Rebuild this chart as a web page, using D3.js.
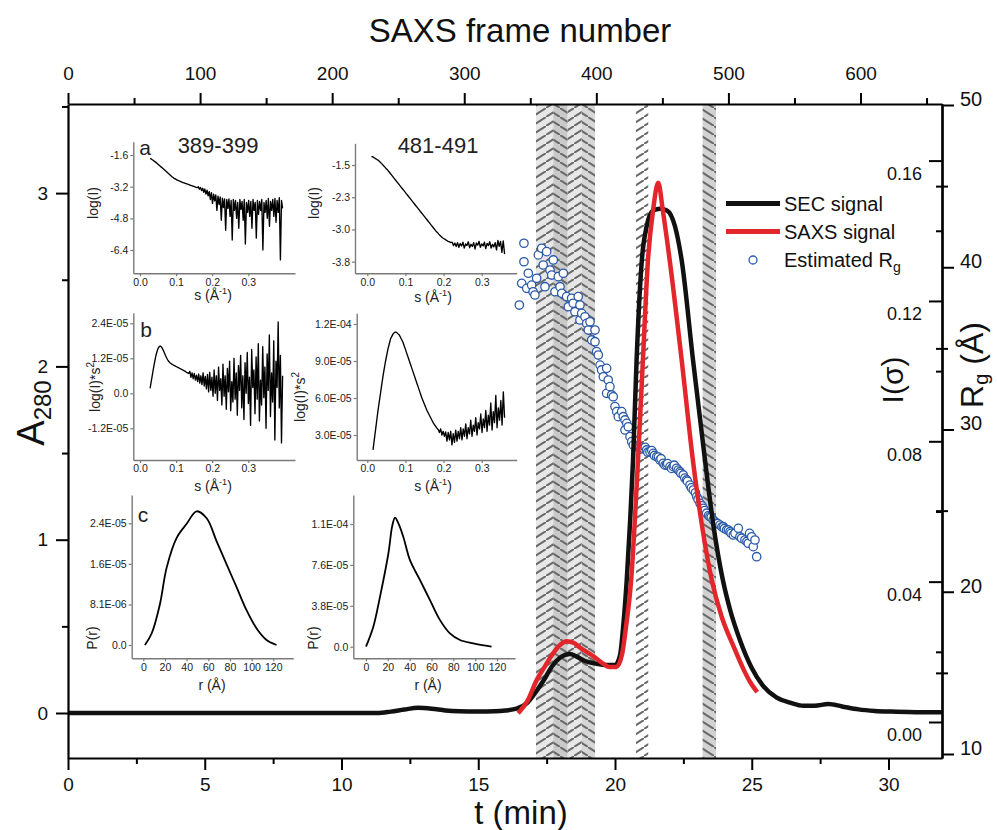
<!DOCTYPE html>
<html><head><meta charset="utf-8">
<script src="https://cdn.jsdelivr.net/npm/d3@7"></script>
<style>
body{margin:0;background:#fff;}
svg text{font-family:"Liberation Sans",Arial,Helvetica,sans-serif;}
</style></head><body>
<svg id="c" width="997" height="830"></svg>
<script>
// ---------------- DATA ----------------
// Main chart: SEC (A280) trace vs time (min)
const secTime = [0, 11.3, 11.8, 12.3, 12.8, 13.3, 13.8, 14.3, 15.0, 15.6, 16.0, 16.4, 16.8, 17.1, 17.4, 17.7, 18.0, 18.35, 18.6, 18.9, 19.3, 19.7, 20.0, 20.18, 20.3, 20.43, 20.55, 20.66, 20.79, 20.98, 21.16, 21.39, 21.65, 21.9, 22.19, 22.44, 22.85, 23.29, 23.6, 23.94, 24.2, 24.57, 25.0, 25.4, 25.9, 26.4, 26.9, 27.3, 27.8, 28.3, 28.9, 29.5, 30.1, 31.0, 31.96];
const secA280 = [0, 0, 0.008, 0.02, 0.03, 0.025, 0.015, 0.01, 0.008, 0.01, 0.015, 0.025, 0.06, 0.12, 0.19, 0.27, 0.32, 0.34, 0.325, 0.30, 0.285, 0.277, 0.277, 0.33, 0.5, 0.77, 1.1, 1.46, 2.04, 2.61, 2.81, 2.90, 2.91, 2.90, 2.81, 2.61, 2.04, 1.46, 1.08, 0.77, 0.6, 0.42, 0.26, 0.16, 0.09, 0.06, 0.042, 0.042, 0.052, 0.038, 0.021, 0.012, 0.008, 0.005, 0.004];
// SAXS integrated intensity I(sigma) vs time (min)
const saxsTime = [16.46, 16.8, 17.14, 17.45, 17.73, 18.0, 18.23, 18.5, 18.72, 19.0, 19.2, 19.5, 19.8, 20.05, 20.25, 20.4, 20.59, 20.84, 21.02, 21.2, 21.39, 21.58, 21.75, 22.01, 22.44, 22.85, 23.2, 23.54, 23.9, 24.31, 24.7, 24.94, 25.2];
const saxsI = [0.0025, 0.006, 0.012, 0.016, 0.0195, 0.022, 0.023, 0.0225, 0.0212, 0.0198, 0.0188, 0.017, 0.0157, 0.0157, 0.019, 0.027, 0.0404, 0.0745, 0.103, 0.131, 0.1457, 0.1537, 0.1457, 0.131, 0.103, 0.0745, 0.055, 0.0404, 0.030, 0.022, 0.015, 0.0114, 0.0085];
// Estimated Rg vs SAXS frame number
const rgFrame = [341.7, 343.5, 345.2, 345.2, 347.3, 348.5, 351.0, 352.1, 353.5, 354.8, 356.1, 358.6, 359.8, 361.1, 362.4, 364.9, 366.2, 367.4, 368.7, 371.2, 372.5, 373.8, 375.0, 377.5, 378.8, 381.3, 382.5, 383.8, 386.3, 387.6, 387.6, 388.9, 391.4, 392.7, 393.9, 395.2, 396.5, 399.0, 399.0, 400.2, 401.5, 402.8, 404.0, 405.3, 407.8, 407.8, 409.0, 410.3, 411.6, 412.8, 414.1, 415.4, 416.6, 419.2, 420.4, 421.7, 421.7, 423.0, 424.2, 425.5, 426.8, 428.0, 430.5, 432.0, 433.0, 434.0, 435.5, 437.0, 438.1, 439.0, 440.6, 442.0, 443.1, 444.0, 445.7, 447.0, 448.2, 449.0, 450.7, 452.0, 453.3, 454.0, 455.8, 457.0, 458.3, 459.0, 460.8, 462.0, 463.3, 464.0, 465.8, 467.0, 468.4, 469.0, 470.9, 472.0, 473.4, 475.0, 476.0, 477.0, 478.5, 480.0, 481.0, 482.0, 483.5, 485.0, 486.0, 487.0, 488.5, 490.0, 491.1, 492.0, 493.6, 495.0, 496.1, 497.0, 498.7, 500.0, 501.2, 502.0, 503.7, 505.0, 507.5, 508.7, 510.0, 512.5, 514.0, 515.0, 516.0, 517.6, 518.8, 520.1, 521.4];
const rgValue = [37.67, 39.01, 41.48, 40.34, 38.70, 39.63, 38.90, 38.49, 38.29, 39.32, 40.76, 41.17, 40.14, 38.80, 40.96, 39.83, 39.52, 40.45, 38.49, 39.42, 38.80, 38.39, 39.63, 38.19, 37.57, 38.09, 37.78, 37.26, 38.19, 37.67, 36.75, 37.16, 36.95, 36.54, 36.13, 36.64, 35.52, 36.13, 35.41, 34.80, 34.59, 33.97, 33.67, 33.25, 33.77, 32.23, 33.05, 32.64, 32.13, 32.02, 31.41, 31.10, 30.79, 31.10, 30.79, 30.59, 29.97, 30.38, 30.17, 29.56, 29.25, 29.04, 28.94, 29.00, 28.94, 28.80, 28.84, 28.90, 28.74, 28.60, 28.63, 28.70, 28.53, 28.40, 28.32, 28.30, 28.12, 28.20, 27.92, 27.80, 27.81, 27.90, 27.71, 27.60, 27.71, 27.80, 27.61, 27.50, 27.40, 27.30, 27.20, 27.00, 26.89, 26.80, 26.58, 26.40, 26.27, 26.10, 25.86, 25.70, 25.45, 25.30, 25.14, 25.00, 24.84, 24.70, 24.63, 24.60, 24.42, 24.30, 24.22, 24.20, 24.11, 24.00, 24.01, 23.90, 23.81, 23.80, 23.70, 23.60, 23.50, 23.60, 23.91, 23.39, 23.30, 23.19, 23.10, 22.99, 23.60, 23.39, 22.78, 23.19, 22.16];
// Frame windows that were averaged (shaded bands)
const bandFrom = [354.3, 367.4, 378.3, 389, 430, 480.5];
const bandTo   = [367.4, 378.3, 389, 399, 439.3, 490.6];
// Axis ticks
const timeTicks = [0, 5, 10, 15, 20, 25, 30];
const timeMinor = [2.5, 7.5, 12.5, 17.5, 22.5, 27.5];
const frameTicks = [0, 100, 200, 300, 400, 500, 600];
const frameMinor = [50, 150, 250, 350, 450, 550, 650];
const a280Ticks = [0, 1, 2, 3];
const a280Minor = [0.5, 1.5, 2.5, 3.5];
const iTicks = [0, 0.04, 0.08, 0.12, 0.16];
const iMinor = [0.02, 0.06, 0.10, 0.14];
const rgTicks = [10, 20, 30, 40, 50];
const rgMinor = [15, 25, 35, 45];

// Insets: frames 389-399 (left) and 481-491 (right)
const sTicks = [0, 0.1, 0.2, 0.3];
const sTickLabels = ["0.0", "0.1", "0.2", "0.3"];
const rTicks = [0, 20, 40, 60, 80, 100, 120];
const rTickLabels = ["0", "20", "40", "60", "80", "100", "120"];
// (a) log(I) vs s
const aLeftS = [0.028, 0.395];
const aLeftLogI = [-1.77,-1.80,-1.84,-1.88,-1.92,-1.96,-2.01,-2.06,-2.10,-2.15,-2.20,-2.25,-2.30,-2.35,-2.40,-2.45,-2.50,-2.55,-2.60,-2.65,-2.70,-2.74,-2.78,-2.81,-2.84,-2.87,-2.90,-2.92,-2.95,-2.97,-2.99,-3.01,-3.03,-3.05,-3.07,-3.09,-3.11,-3.13,-3.15,-3.17,-3.19,-3.21,-3.23,-3.25,
 -3.20,-3.33,-3.24,-3.40,-3.28,-3.48,-3.32,-3.58,-3.38,-3.66,-3.45,-3.85,-3.50,-4.05,-3.58,-3.92,-3.62,-4.40,-3.68,-4.10,-3.72,-4.90,-3.78,-4.25,-3.82,-5.40,-3.85,-4.30,-3.82,-4.70,-3.90,-5.90,-3.85,-4.40,-3.90,-4.80,-4.00,-5.30,-3.85,-4.35,-3.95,-4.90,-3.85,-6.10,-4.00,-4.50,-3.90,-4.70,-3.95,-5.30,-3.85,-4.40,-4.00,-5.80,-3.90,-4.60,-3.95,-4.40,-3.85,-6.40,-4.00,-4.50,-3.90,-4.80,-3.80,-5.20,-3.95,-4.40,-3.85,-4.70,-3.80,-5.00,-3.90,-4.50,-3.75,-6.90,-3.90,-4.30];
const aLeftTicks = [-1.6, -3.2, -4.8, -6.4];
const aLeftTickLabels = ["-1.6", "-3.2", "-4.8", "-6.4"];
const aRightS = [0.011, 0.36];
const aRightLogI = [-1.32,-1.33,-1.35,-1.37,-1.39,-1.41,-1.44,-1.47,-1.50,-1.54,-1.57,-1.61,-1.64,-1.68,-1.72,-1.76,-1.80,-1.84,-1.88,-1.92,-1.96,-2.00,-2.04,-2.08,-2.12,-2.16,-2.20,-2.24,-2.28,-2.32,-2.36,-2.40,-2.44,-2.48,-2.52,-2.56,-2.60,-2.64,-2.68,-2.72,-2.76,-2.80,-2.84,-2.88,-2.92,-2.96,-3.00,-3.04,-3.08,-3.11,-3.15,-3.18,-3.21,-3.24,-3.26,-3.28,-3.30,-3.32,-3.33,-3.35,
 -3.34,-3.42,-3.36,-3.44,-3.35,-3.46,-3.37,-3.43,-3.34,-3.48,-3.38,-3.42,-3.33,-3.47,-3.39,-3.44,-3.35,-3.50,-3.36,-3.41,-3.32,-3.46,-3.38,-3.43,-3.34,-3.49,-3.37,-3.42,-3.33,-3.48,-3.39,-3.45,-3.35,-3.52,-3.30,-3.44,-3.32,-3.58,-3.31,-3.62];
const aRightTicks = [-1.52, -2.28, -3.04, -3.80];
const aRightTickLabels = ["-1.5", "-2.3", "-3.0", "-3.8"];
// (b) log(I)*s^2 vs s  (values in units of 1e-5)
const bLeftS = [0.028, 0.395];
const bLeftKratky = [0.17,0.40,0.62,0.85,1.05,1.25,1.40,1.52,1.59,1.62,1.60,1.55,1.47,1.38,1.29,1.21,1.14,1.09,1.05,1.02,0.99,0.97,0.95,0.93,0.91,0.89,0.87,0.85,0.83,0.81,0.79,0.77,0.75,0.72,0.70,0.68,
 0.75,0.55,0.70,0.50,0.68,0.45,0.62,0.40,0.66,0.35,0.60,0.30,0.70,0.25,0.58,0.15,0.65,0.05,0.72,0.10,0.55,-0.10,0.80,0.00,0.60,-0.25,0.90,0.10,0.50,-0.40,1.00,-0.10,0.60,-0.55,0.85,0.05,1.10,-0.60,0.40,-0.30,1.20,-0.20,0.70,-0.75,0.95,0.10,1.30,-0.50,0.60,-0.90,1.05,0.00,1.40,-0.35,0.55,-1.10,1.50,0.20,0.80,-0.70,1.25,-0.20,1.70,-0.95,0.45,-0.40,1.60,-0.15,0.90,-1.20,1.35,0.10,2.00,-0.80,0.70,-0.30,1.80,-1.60,1.10,0.20,2.45,-0.50,1.30,-1.70,0.60];
const bLeftTicks = [2.4, 1.2, 0, -1.2];
const bLeftTickLabels = ["2.4E-05", "1.2E-05", "0.0", "-1.2E-05"];
const bRightS = [0.015, 0.36];
const bRightKratky = [1.8,2.6,3.4,4.2,5.0,5.7,6.4,7.1,7.8,8.4,9.0,9.5,10.0,10.4,10.8,11.0,11.2,11.3,11.35,11.3,11.2,11.1,10.9,10.7,10.5,10.2,9.9,9.6,9.3,9.0,8.7,8.4,8.1,7.8,7.5,7.2,6.9,6.6,6.3,6.0,5.75,5.5,5.25,5.0,4.8,4.6,4.4,4.2,4.0,3.85,3.7,3.55,3.45,
 3.2,3.5,3.0,3.3,2.9,3.25,2.5,3.2,2.6,3.3,2.2,3.1,2.4,3.4,2.5,3.3,2.7,3.6,2.6,3.5,2.9,3.9,2.7,3.6,3.1,4.2,2.9,3.8,3.3,4.4,3.0,4.0,3.5,4.7,3.2,4.3,3.6,5.0,3.3,4.6,3.8,5.6,3.4,4.9,4.0,6.2,3.6,5.2,4.2,5.8,3.8,6.5,4.4];
const bRightTicks = [12, 9, 6, 3];
const bRightTickLabels = ["1.2E-04", "9.0E-05", "6.0E-05", "3.0E-05"];
// (c) P(r) vs r (values in units of 1e-5)
const cLeftR = [1.5, 7.7, 15.4, 21.5, 30.8, 40, 49.2, 58.5, 67.7, 76.9, 86.2, 95.4, 104.6, 113.8, 123];
const cLeftP = [0, 0.23, 0.82, 1.54, 2.14, 2.42, 2.67, 2.53, 2.07, 1.61, 1.15, 0.69, 0.33, 0.10, 0];
const cLeftTicks = [0, 0.81, 1.62, 2.43];
const cLeftTickLabels = ["0.0", "8.1E-06", "1.6E-05", "2.4E-05"];
const cRightR = [0, 6.7, 12.8, 20.5, 24, 26.6, 29.5, 34.2, 40.3, 49.5, 58.6, 67.8, 76.9, 86.1, 98.3, 115];
const cRightP = [0, 1.85, 4.63, 8.66, 11.2, 12.0, 11.5, 10.2, 8.04, 6.18, 4.33, 2.47, 1.24, 0.62, 0.31, 0];
const cRightTicks = [0, 3.8, 7.6, 11.4];
const cRightTickLabels = ["0.0", "3.8E-05", "7.6E-05", "1.1E-04"];

// ---------------- LAYOUT ----------------
const svg = d3.select("#c");
const L = 68, R = 942, T = 104, B = 758;
function calib(v0, p0, v1, p1, lo, hi) {
  const s = d3.scaleLinear().domain([v0, v1]).range([p0, p1]);
  return d3.scaleLinear().domain([s.invert(lo), s.invert(hi)]).range([lo, hi]);
}
const x = calib(0, 68, 30, 888.5, L, R);
const xf = calib(0, 68, 600, 860.5, L, R);
const yA = calib(0, 713, 3, 193.1, B, T);
const yI = calib(0, 722, 0.16, 160.6, B, T);
const yR = calib(10, 754, 50, 105, B, T);

const defs = svg.append("defs");
defs.append("clipPath").attr("id", "plotclip").append("rect")
  .attr("x", L).attr("y", T).attr("width", R - L).attr("height", B - T);
function hatch(id, dir) {
  const p = defs.append("pattern").attr("id", id).attr("patternUnits", "userSpaceOnUse")
    .attr("width", 14).attr("height", 9);
  const d = dir === "/" ? "M-2,10.3 L16,-1.3" : "M-2,-1.3 L16,10.3";
  p.append("path").attr("d", d).attr("stroke", "#6a6a6a").attr("stroke-width", 2).attr("fill", "none");
}
hatch("hf", "/"); hatch("hb", "\\");

// bands
const bandLook = [
  {fill: "#e7e7e7", pat: "hf"}, {fill: "#c9c9c9", pat: "hb"}, {fill: "#e7e7e7", pat: "hf"},
  {fill: "#d6d6d6", pat: "hb"}, {fill: "#ffffff", pat: "hf"}, {fill: "#d2d2d2", pat: "hb"}];
const bands = svg.append("g");
bandFrom.forEach((f, i) => {
  const x0 = xf(f), x1 = xf(bandTo[i]);
  bands.append("rect").attr("x", x0).attr("y", T).attr("width", x1 - x0).attr("height", B - T).attr("fill", bandLook[i].fill);
  bands.append("rect").attr("x", x0).attr("y", T).attr("width", x1 - x0).attr("height", B - T).attr("fill", `url(#${bandLook[i].pat})`);
});

// Rg circles
const plot = svg.append("g").attr("clip-path", "url(#plotclip)");
plot.selectAll("circle.rg").data(d3.zip(rgFrame, rgValue)).join("circle")
  .attr("class", "rg").attr("cx", d => xf(d[0])).attr("cy", d => yR(d[1])).attr("r", 4.2)
  .attr("fill", "#fff").attr("stroke", "#2b5aa8").attr("stroke-width", 1.3);
// SEC line
plot.append("path").datum(d3.zip(secTime, secA280))
  .attr("d", d3.line().x(d => x(d[0])).y(d => yA(d[1])).curve(d3.curveMonotoneX))
  .attr("fill", "none").attr("stroke", "#111").attr("stroke-width", 4.5).attr("stroke-linejoin", "round");
// SAXS line
plot.append("path").datum(d3.zip(saxsTime, saxsI))
  .attr("d", d3.line().x(d => x(d[0])).y(d => yI(d[1])).curve(d3.curveMonotoneX))
  .attr("fill", "none").attr("stroke", "#e3262b").attr("stroke-width", 4.5).attr("stroke-linejoin", "round");

// ---------------- AXES ----------------
function styleAxis(g, fs) {
  g.select(".domain").attr("stroke", "#000").attr("stroke-width", 2.2);
  g.selectAll(".tick line").attr("stroke", "#000").attr("stroke-width", 2);
  g.selectAll(".tick text").attr("font-size", fs).attr("fill", "#111")
    .attr("font-family", "'Liberation Sans', Arial, sans-serif");
}
function minor(g) { g.select(".domain").remove(); g.selectAll(".tick line").attr("stroke", "#000").attr("stroke-width", 2); }
// bottom
styleAxis(svg.append("g").attr("transform", `translate(0,${B})`)
  .call(d3.axisBottom(x).tickValues(timeTicks).tickFormat(d3.format("d")).tickSize(12).tickPadding(8).tickSizeOuter(0)), 19);
minor(svg.append("g").attr("transform", `translate(0,${B})`)
  .call(d3.axisBottom(x).tickValues(timeMinor).tickSize(6).tickFormat("")));
// top
styleAxis(svg.append("g").attr("transform", `translate(0,${T})`)
  .call(d3.axisTop(xf).tickValues(frameTicks).tickFormat(d3.format("d")).tickSize(11).tickPadding(13).tickSizeOuter(0)), 19);
minor(svg.append("g").attr("transform", `translate(0,${T})`)
  .call(d3.axisTop(xf).tickValues(frameMinor).tickSize(6).tickFormat("")));
// left
styleAxis(svg.append("g").attr("transform", `translate(${L},0)`)
  .call(d3.axisLeft(yA).tickValues(a280Ticks).tickFormat(d3.format("d")).tickSize(12).tickPadding(8).tickSizeOuter(0)), 19);
minor(svg.append("g").attr("transform", `translate(${L},0)`)
  .call(d3.axisLeft(yA).tickValues(a280Minor).tickSize(6).tickFormat("")));
// right: I(sigma) inward
const gI = svg.append("g").attr("transform", `translate(${R},0)`)
  .call(d3.axisLeft(yI).tickValues(iTicks).tickSize(13).tickPadding(7).tickFormat(d3.format(".2f")).tickSizeOuter(0));
styleAxis(gI, 18);
gI.selectAll(".tick text").attr("dy", "1.05em");
minor(svg.append("g").attr("transform", `translate(${R},0)`)
  .call(d3.axisLeft(yI).tickValues(iMinor).tickSize(6).tickFormat("")));
// right: Rg outward
const gR = svg.append("g").attr("transform", `translate(${R},0)`)
  .call(d3.axisRight(yR).tickValues(rgTicks).tickFormat(d3.format("d")).tickSize(12).tickPadding(6).tickSizeOuter(0));
styleAxis(gR, 20);
gR.selectAll(".tick text").attr("dy", "0.02em");
minor(svg.append("g").attr("transform", `translate(${R + 6},0)`)
  .call(d3.axisLeft(yR).tickValues(rgMinor).tickSize(12).tickFormat("")));
// titles
svg.append("text").attr("x", 520).attr("y", 42).attr("text-anchor", "middle").attr("font-size", 33).attr("fill", "#111").text("SAXS frame number");
svg.append("text").attr("x", 521).attr("y", 824).attr("text-anchor", "middle").attr("font-size", 33).attr("fill", "#111").text("t (min)");
const tA = svg.append("text").attr("transform", "translate(44,413) rotate(-90)").attr("text-anchor", "middle").attr("font-size", 38).attr("fill", "#111");
tA.append("tspan").text("A");
tA.append("tspan").attr("font-size", 24).attr("dy", 7).text("280");
svg.append("text").attr("transform", "translate(903,380) rotate(-90)").attr("text-anchor", "middle").attr("font-size", 30).attr("fill", "#111").text("I(σ)");
const tR = svg.append("text").attr("transform", "translate(983,365) rotate(-90)").attr("text-anchor", "middle").attr("font-size", 32).attr("fill", "#111");
tR.append("tspan").text("R");
tR.append("tspan").attr("font-size", 20).attr("dy", 5).text("g");
tR.append("tspan").attr("dy", -5).text(" (Å)");

// legend
const lg = svg.append("g");
lg.append("line").attr("x1", 726).attr("x2", 780).attr("y1", 203.5).attr("y2", 203.5).attr("stroke", "#111").attr("stroke-width", 5);
lg.append("line").attr("x1", 726).attr("x2", 780).attr("y1", 231.5).attr("y2", 231.5).attr("stroke", "#e3262b").attr("stroke-width", 5);
lg.append("circle").attr("cx", 753).attr("cy", 260).attr("r", 4).attr("fill", "#fff").attr("stroke", "#2b5aa8").attr("stroke-width", 1.3);
lg.append("text").attr("x", 784).attr("y", 203.5).attr("dy", "0.35em").attr("font-size", 20).attr("fill", "#111").text("SEC signal");
lg.append("text").attr("x", 784).attr("y", 231.5).attr("dy", "0.35em").attr("font-size", 20).attr("fill", "#111").text("SAXS signal");
const le = lg.append("text").attr("x", 784).attr("y", 260).attr("dy", "0.35em").attr("font-size", 20).attr("fill", "#111");
le.append("tspan").text("Estimated R");
le.append("tspan").attr("font-size", 14).attr("dy", 5).text("g");

// ---------------- INSETS ----------------
function grid(range, n) { return d3.range(n).map(i => range[0] + (range[1] - range[0]) * i / (n - 1)); }
function drawInset(o) {
  const [x0, x1, y0, y1] = o.box;
  const xs = calib(o.xc[0], o.xc[1], o.xc[2], o.xc[3], x0, x1);
  const ys = calib(o.yc[0], o.yc[1], o.yc[2], o.yc[3], y1, y0);
  const g = svg.append("g");
  const ax = g.append("g").attr("transform", `translate(0,${y1})`)
    .call(d3.axisBottom(xs).tickValues(o.xt).tickFormat((d, i) => o.xl[i]).tickSize(3).tickPadding(2).tickSizeOuter(0));
  const ay = g.append("g").attr("transform", `translate(${x0},0)`)
    .call(d3.axisLeft(ys).tickValues(o.yt).tickFormat((d, i) => o.yl[i]).tickSize(3).tickPadding(2).tickSizeOuter(0));
  [ax, ay].forEach(a => {
    a.select(".domain").attr("stroke", "#7a7a7a").attr("stroke-width", 1.4);
    a.selectAll(".tick line").attr("stroke", "#7a7a7a").attr("stroke-width", 1.2);
    a.selectAll(".tick text").attr("font-size", 10.5).attr("fill", "#222").attr("font-family", "'Liberation Sans', Arial, sans-serif");
  });
  g.append("path").datum(d3.zip(o.xv, o.yv))
    .attr("d", d3.line().x(d => xs(d[0])).y(d => ys(d[1])).curve(o.smooth ? d3.curveCatmullRom : d3.curveLinear))
    .attr("fill", "none").attr("stroke", "#000").attr("stroke-width", o.smooth ? 1.8 : 1.35).attr("stroke-linejoin", "round");
  const yt = g.append("text").attr("transform", `translate(${o.yTitle[0]},${o.yTitle[1]}) rotate(-90)`)
    .attr("text-anchor", "middle").attr("dy", "0.35em").attr("font-size", 14).attr("fill", "#222");
  o.yTitleParts.forEach(p => { const t = yt.append("tspan").text(p[0]); if (p[1]) t.attr("font-size", 10).attr("dy", p[1]); if (p[2]) t.attr("dy", p[2]); });
  const xt = g.append("text").attr("x", o.xTitle[0]).attr("y", o.xTitle[1]).attr("text-anchor", "middle").attr("dy", "0.35em").attr("font-size", 14).attr("fill", "#222");
  o.xTitleParts.forEach(p => { const t = xt.append("tspan").text(p[0]); if (p[1]) t.attr("font-size", 9).attr("dy", p[1]); if (p[2]) t.attr("dy", p[2]); });
}
const sTitle = [["s ("], ["Å"], ["-1", -6], [")", null, 6]];
const rTitle = [["r ("], ["Å"], [")"]];
drawInset({box: [133.3, 295, 141.7, 273.3], xc: [0, 140, 0.3, 248.3], yc: [-1.6, 155, -6.4, 250],
  xt: sTicks, xl: sTickLabels, yt: aLeftTicks, yl: aLeftTickLabels,
  xv: grid(aLeftS, aLeftLogI.length), yv: aLeftLogI, smooth: false,
  yTitle: [93, 203], yTitleParts: [["log(I)"]], xTitle: [213, 295], xTitleParts: sTitle});
drawInset({box: [355, 516.7, 143.3, 273.3], xc: [0, 367.3, 0.3, 481.7], yc: [-1.52, 165, -3.80, 261.7],
  xt: sTicks, xl: sTickLabels, yt: aRightTicks, yl: aRightTickLabels,
  xv: grid(aRightS, aRightLogI.length), yv: aRightLogI, smooth: false,
  yTitle: [314, 203], yTitleParts: [["log(I)"]], xTitle: [433, 297], xTitleParts: sTitle});
drawInset({box: [133.3, 295, 312.7, 460], xc: [0, 140, 0.3, 248.3], yc: [2.4, 323.3, -1.2, 428.3],
  xt: sTicks, xl: sTickLabels, yt: bLeftTicks, yl: bLeftTickLabels,
  xv: grid(bLeftS, bLeftKratky.length), yv: bLeftKratky, smooth: false,
  yTitle: [95, 387], yTitleParts: [["log(I)*s"], ["2", -6]], xTitle: [213, 486], xTitleParts: sTitle});
drawInset({box: [356.7, 516.7, 313.3, 460], xc: [0, 367.3, 0.3, 481.7], yc: [12, 324, 3, 435],
  xt: sTicks, xl: sTickLabels, yt: bRightTicks, yl: bRightTickLabels,
  xv: grid(bRightS, bRightKratky.length), yv: bRightKratky, smooth: false,
  yTitle: [300, 397], yTitleParts: [["log(I)*s"], ["2", -6]], xTitle: [433, 486], xTitleParts: sTitle});
drawInset({box: [131.7, 293.3, 495, 658.3], xc: [0, 143.3, 120, 273.3], yc: [0, 645, 2.43, 523.3],
  xt: rTicks, xl: rTickLabels, yt: cLeftTicks, yl: cLeftTickLabels,
  xv: cLeftR, yv: cLeftP, smooth: true,
  yTitle: [92, 638], yTitleParts: [["P(r)"]], xTitle: [212, 685], xTitleParts: rTitle});
drawInset({box: [353.3, 515, 495, 658.3], xc: [0, 366, 120, 497], yc: [0, 646.7, 11.4, 524],
  xt: rTicks, xl: rTickLabels, yt: cRightTicks, yl: cRightTickLabels,
  xv: cRightR, yv: cRightP, smooth: true,
  yTitle: [313, 638], yTitleParts: [["P(r)"]], xTitle: [428, 685], xTitleParts: rTitle});
// inset labels
[["a", 145, 148], ["b", 146, 330], ["c", 143, 515]].forEach(t =>
  svg.append("text").attr("x", t[1]).attr("y", t[2]).attr("dy", "0.35em").attr("text-anchor", "middle").attr("font-size", 21).attr("fill", "#222").text(t[0]));
[["389-399", 218, 145], ["481-491", 438, 145]].forEach(t =>
  svg.append("text").attr("x", t[1]).attr("y", t[2]).attr("dy", "0.35em").attr("text-anchor", "middle").attr("font-size", 22).attr("fill", "#222").text(t[0]));
</script></body></html>
